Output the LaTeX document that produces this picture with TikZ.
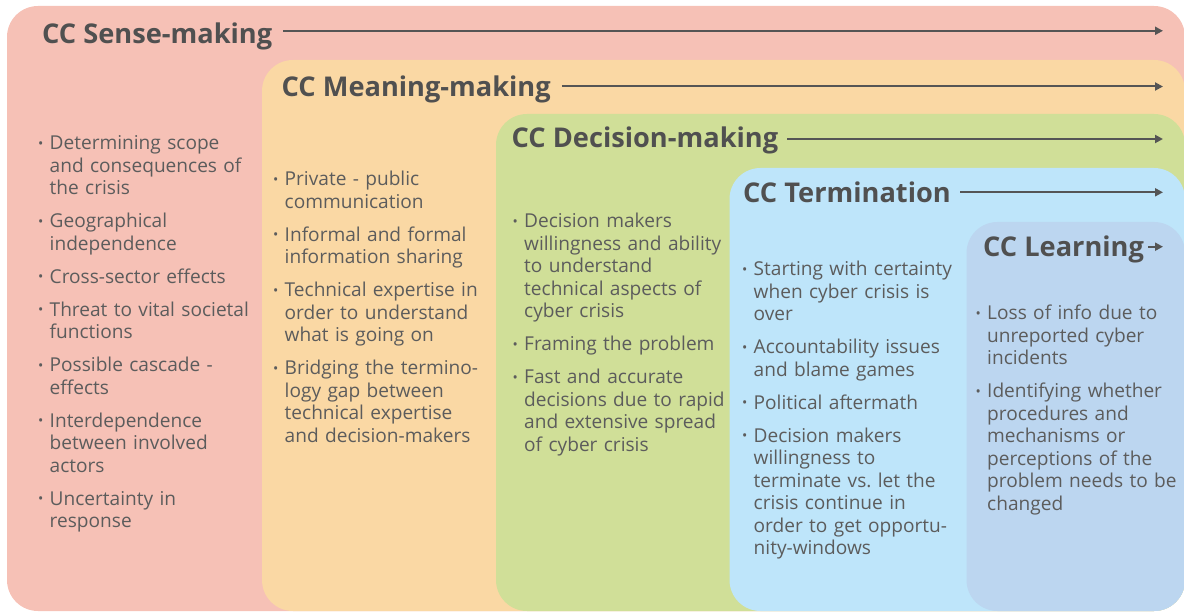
\documentclass[tikz,border=0pt]{standalone}
\usepackage{fontspec}
\setmainfont{Open Sans}
\usetikzlibrary{arrows.meta}
\frenchspacing
\definecolor{cSense}{RGB}{246,193,182}
\definecolor{cMean}{RGB}{250,216,164}
\definecolor{cDec}{RGB}{208,223,152}
\definecolor{cTerm}{RGB}{190,229,250}
\definecolor{cLearn}{RGB}{188,214,240}
\definecolor{headc}{RGB}{80,80,80}
\definecolor{bodyc}{RGB}{92,92,92}
\definecolor{arrowc}{RGB}{85,85,85}
\newlength\hangamt
\setlength\hangamt{11.5pt}
\newcommand\bulletmark{\raisebox{1.8pt}{\fontsize{14}{14}\selectfont •}}
\newcommand\bpt[1]{\hangindent=\hangamt\hangafter=1\noindent\makebox[\hangamt][l]{\bulletmark}{\let\\\newline#1}\par}
\newcommand\gap{\vskip10.5pt}
\tikzset{
  stagebox/.style={fill=#1, rounded corners=31pt},
  head/.style={anchor=base west, inner sep=0pt, font=\fontsize{27.2}{32}\selectfont\bfseries, text=headc},
  body/.style={anchor=base west, inner sep=0pt, text width=#1, font=\fontsize{19.1}{22.5}\selectfont\frenchspacing, text=bodyc},
  flow/.style={line width=2pt, draw=arrowc, -{Triangle[length=8pt,width=8pt]}}
}
\begin{document}
\begin{tikzpicture}[x=1pt,y=-1pt]
\useasboundingbox (0,0) rectangle (1184,612);
% stage boxes
\fill[stagebox=cSense] (7,6) rectangle (1185,611);
\fill[stagebox=cMean] (262,60) rectangle (1185,611);
\fill[stagebox=cDec] (496,114) rectangle (1185,611);
\fill[stagebox=cTerm] (729.5,168) rectangle (1185,611);
\fill[stagebox=cLearn] (966.5,222) rectangle (1185,611);
% headings
\node[head] (hS) at (42,43.3) {CC Sense-making};
\node[head] (hM) at (281.5,96.5) {CC Meaning-making};
\node[head] (hD) at (511.5,148) {CC Decision-making};
\node[head] (hT) at (743,202.7) {CC Termination};
\node[head] (hL) at (983,256.7) {CC Learning};
% arrow ends
\coordinate (eS) at (1163,30.8);
\coordinate (eM) at (1163,86.5);
\coordinate (eD) at (1163,139);
\coordinate (eT) at (1163,192.3);
\coordinate (eL) at (1163,246.7);
\draw[flow] ([xshift=11pt]hS.base east |- eS) -- (eS);
\draw[flow] ([xshift=11pt]hM.base east |- eM) -- (eM);
\draw[flow] ([xshift=9pt]hD.base east |- eD) -- (eD);
\draw[flow] ([xshift=9pt]hT.base east |- eT) -- (eT);
\draw[flow] ([xshift=4pt]hL.base east |- eL) -- (eL);
% bullet lists
\node[body=230pt] (bS) at (38,150) {%
\bpt{Determining scope\\and consequences of\\the crisis}\gap
\bpt{Geographical\\independence}\gap
\bpt{Cross-sector effects}\gap
\bpt{Threat to vital societal\\functions}\gap
\bpt{Possible cascade -\\effects}\gap
\bpt{Interdependence\\between involved\\actors}\gap
\bpt{Uncertainty in\\response}};
\node[body=230pt] (bM) at (273,186) {%
\bpt{Private - public\\communication}\gap
\bpt{Informal and formal\\information sharing}\gap
\bpt{Technical expertise in\\order to understand\\what is going on}\gap
\bpt{Bridging the termino-\\logy gap between\\technical expertise\\and decision-makers}};
\node[body=230pt] (bD) at (512.5,228) {%
\bpt{Decision makers\\willingness and ability\\to understand\\technical aspects of\\cyber crisis}\gap
\bpt{Framing the problem}\gap
\bpt{Fast and accurate\\decisions due to rapid\\and extensive spread\\of cyber crisis}};
\node[body=230pt] (bT) at (742,276) {%
\bpt{Starting with certainty\\when cyber crisis is\\over}\gap
\bpt{Accountability issues\\and blame games}\gap
\bpt{Political aftermath}\gap
\bpt{Decision makers\\willingness to\\terminate vs.\ let the\\crisis continue in\\order to get opportu-\\nity-windows}};
\node[body=210pt] (bL) at (975.5,320) {%
\bpt{Loss of info due to\\unreported cyber\\incidents}\gap
\bpt{Identifying whether\\procedures and\\mechanisms or\\perceptions of the\\problem needs to be\\changed}};
\end{tikzpicture}
\end{document}
